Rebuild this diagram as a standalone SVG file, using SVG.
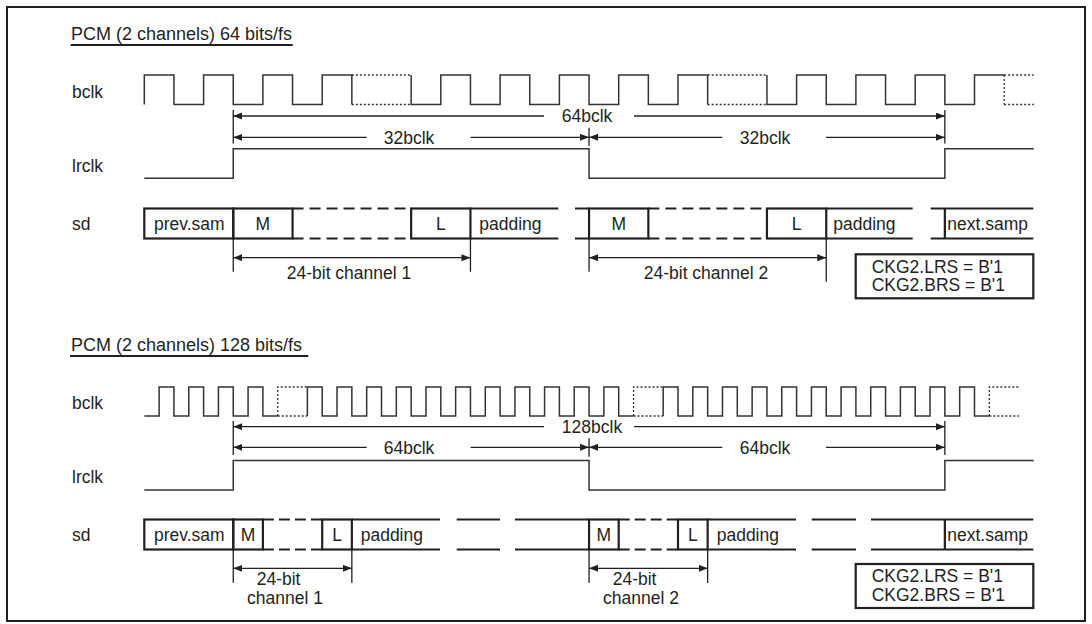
<svg xmlns="http://www.w3.org/2000/svg" width="1092" height="624" viewBox="0 0 1092 624">
<style>
text{font-family:"Liberation Sans",Arial,sans-serif;font-size:17.5px;fill:#231f20}
.t{font-size:18px}
.c{text-anchor:middle}
.w{fill:none;stroke:#333;stroke-width:1.5}
.d{fill:none;stroke:#333;stroke-width:1.3;stroke-dasharray:2 2}
.a{fill:none;stroke:#231f20;stroke-width:1.3}
.b{fill:none;stroke:#231f20;stroke-width:2.2}
.bd{fill:none;stroke:#231f20;stroke-width:2.2;stroke-dasharray:11 6}
.bd2{fill:none;stroke:#231f20;stroke-width:2.2;stroke-dasharray:11 5}
.ar{marker-start:url(#ah);marker-end:url(#ah)}
</style>
<defs>
<marker id="ah" markerUnits="userSpaceOnUse" markerWidth="10" markerHeight="8" refX="9" refY="3.5" orient="auto-start-reverse"><path d="M0,0 L9,3.5 L0,7 z" fill="#231f20"/></marker>
</defs>
<rect x="7" y="7" width="1078" height="614" fill="#fff" stroke="#231f20" stroke-width="2"/>

<g id="title64">
<text class="t" x="71" y="39.5">PCM (2 channels) 64 bits/fs</text>
<line x1="70.7" y1="45" x2="292.7" y2="45" stroke="#231f20" stroke-width="2.2"/>
</g>
<g id="labels64">
<text x="72" y="97.7">bclk</text>
<text x="72" y="171.5">lrclk</text>
<text x="72" y="230">sd</text>
</g>
<g id="bclk64">
<path class="w" d="M144.3,104.5 V75 H173.95 V104.5 H203.6 V75 H233.25 V104.5 H262.9 V75 H292.55 V104.5 H322.2 V75 H351.85 V104.5"/>
<path class="d" d="M351.85,75 H411.15 M351.85,104.5 H411.15"/>
<path class="w" d="M411.15,75 V104.5 H440.8 V75 H470.45 V104.5 H500.1 V75 H529.75 V104.5 H559.4 V75 H589.05 V104.5 H618.7 V75 H648.35 V104.5 H678 V75 H707.65 V104.5"/>
<path class="d" d="M707.65,75 H766.95 M707.65,104.5 H766.95"/>
<path class="w" d="M766.95,75 V104.5 H796.6 V75 H826.25 V104.5 H855.9 V75 H885.55 V104.5 H915.2 V75 H944.85 V104.5 H974.5 V75 H1004.15"/>
<path class="d" d="M1004.15,75 V104.5 M1004.15,75 H1033.8 M1004.15,104.5 H1033.8"/>
</g>
<g id="lrclk64">
<path class="w" d="M144.3,178.3 H233.25 V148.7 H589.05 V178.3 H944.85 V148.7 H1033.8"/>
</g>
<g id="sd64">
<rect class="b" x="144.3" y="208.5" width="88.95" height="30"/>
<rect class="b" x="233.25" y="208.5" width="59.3" height="30"/>
<path class="bd" d="M292.55,208.5 H411.15 M292.55,238.5 H411.15"/>
<rect class="b" x="411.15" y="208.5" width="59.3" height="30"/>
<path class="b" d="M470.45,208.5 H558.3 M470.45,238.5 H558.3 M575,208.5 H589.05 M575,238.5 H589.05"/>
<rect class="b" x="589.05" y="208.5" width="59.3" height="30"/>
<path class="bd" d="M648.35,208.5 H766.95 M648.35,238.5 H766.95"/>
<rect class="b" x="766.95" y="208.5" width="59.3" height="30"/>
<path class="b" d="M826.25,208.5 H912.7 M826.25,238.5 H912.7 M930.7,208.5 H1033.3 M930.7,238.5 H1033.3 M944.85,208.5 V238.5"/>
<text x="154" y="229.5">prev.sam</text>
<text class="c" x="262.9" y="229.5">M</text>
<text class="c" x="440.8" y="229.5">L</text>
<text x="479.3" y="229.5">padding</text>
<text class="c" x="618.7" y="229.5">M</text>
<text class="c" x="796.6" y="229.5">L</text>
<text x="833.3" y="229.5">padding</text>
<text x="947.3" y="229.5">next.samp</text>
</g>
<g id="ckg64">
<rect class="b" x="855.7" y="254.3" width="177.6" height="44"/>
<text x="871.7" y="272.5">CKG2.LRS = B'1</text>
<text x="871.7" y="291">CKG2.BRS = B'1</text>
</g>

<g id="title128">
<text class="t" x="71" y="351">PCM (2 channels) 128 bits/fs</text>
<line x1="70" y1="356" x2="308.3" y2="356" stroke="#231f20" stroke-width="2.2"/>
</g>
<g id="labels128">
<text x="72" y="409">bclk</text>
<text x="72" y="483">lrclk</text>
<text x="72" y="540.7">sd</text>
</g>
<g id="bclk128">
<path class="w" d="M144.3,416 H159.13 V387 H173.95 V416 H188.78 V387 H203.6 V416 H218.43 V387 H233.25 V416 H248.08 V387 H262.9 V416 H277.73"/>
<path class="d" d="M277.73,416 V387 H307.38 M277.73,416 H307.38"/>
<path class="w" d="M307.38,416 V387 H322.2 V416 H337.03 V387 H351.85 V416 H366.68 V387 H381.5 V416 H396.33 V387 H411.15 V416 H425.98 V387 H440.8 V416 H455.63 V387 H470.45 V416 H485.28 V387 H500.1 V416 H514.93 V387 H529.75 V416 H544.58 V387 H559.4 V416 H574.23 V387 H589.05 V416 H603.88 V387 H618.7 V416 H633.53"/>
<path class="d" d="M633.53,416 V387 H663.18 M633.53,416 H663.18"/>
<path class="w" d="M663.18,416 V387 H678 V416 H692.83 V387 H707.65 V416 H722.48 V387 H737.3 V416 H752.13 V387 H766.95 V416 H781.78 V387 H796.6 V416 H811.43 V387 H826.25 V416 H841.08 V387 H855.9 V416 H870.73 V387 H885.55 V416 H900.38 V387 H915.2 V416 H930.03 V387 H944.85 V416 H959.68 V387 H974.5 V416 H989.33"/>
<path class="d" d="M989.33,416 V387 H1018.98 M989.33,416 H1018.98"/>
</g>
<g id="lrclk128">
<path class="w" d="M144.3,490 H233.25 V460.5 H589.05 V490 H944.85 V460.5 H1033.8"/>
</g>
<g id="sd128">
<rect class="b" x="144.3" y="519.5" width="88.95" height="30"/>
<rect class="b" x="233.25" y="519.5" width="29.65" height="30"/>
<path class="bd2" d="M262.9,519.5 H322.2 M262.9,549.5 H322.2"/>
<rect class="b" x="322.2" y="519.5" width="29.65" height="30"/>
<path class="b" d="M351.85,519.5 H440 M351.85,549.5 H440 M456.7,519.5 H500 M456.7,549.5 H500 M515,519.5 H589.05 M515,549.5 H589.05"/>
<rect class="b" x="589.05" y="519.5" width="29.65" height="30"/>
<path class="bd2" d="M618.7,519.5 H678 M618.7,549.5 H678"/>
<rect class="b" x="678" y="519.5" width="29.65" height="30"/>
<path class="b" d="M707.65,519.5 H796 M707.65,549.5 H796 M811.7,519.5 H856 M811.7,549.5 H856 M871,519.5 H1033.3 M871,549.5 H1033.3 M944.85,519.5 V549.5"/>
<text x="154" y="540.5">prev.sam</text>
<text class="c" x="248.1" y="540.5">M</text>
<text class="c" x="337" y="540.5">L</text>
<text x="360.7" y="540.5">padding</text>
<text class="c" x="603.9" y="540.5">M</text>
<text class="c" x="692.8" y="540.5">L</text>
<text x="716.7" y="540.5">padding</text>
<text x="947.3" y="540.5">next.samp</text>
</g>
<g id="ckg128">
<rect class="b" x="855.7" y="564" width="177.6" height="44"/>
<text x="871.7" y="582.3">CKG2.LRS = B'1</text>
<text x="871.7" y="600.7">CKG2.BRS = B'1</text>
</g>

<g id="connectors">
<!-- top ticks -->
<path class="a" d="M233.25,110 V143.5 M944.85,110 V143.5 M589.05,127.7 V146"/>
<line class="a" x1="233.25" y1="116" x2="544" y2="116" marker-start="url(#ah)"/>
<line class="a" x1="634" y1="116" x2="944.85" y2="116" marker-end="url(#ah)"/>
<line class="a" x1="233.25" y1="137.3" x2="366.7" y2="137.3" marker-start="url(#ah)"/>
<line class="a" x1="470.7" y1="137.3" x2="589.05" y2="137.3" marker-end="url(#ah)"/>
<line class="a" x1="589.05" y1="137.3" x2="722.3" y2="137.3" marker-start="url(#ah)"/>
<line class="a" x1="826" y1="137.3" x2="944.85" y2="137.3" marker-end="url(#ah)"/>
<path class="a" d="M233.25,238.5 V271.7 M470.45,238.5 V271.7 M589.05,238.5 V271.7 M826.25,238.5 V281.7"/>
<line class="a ar" x1="233.25" y1="257.7" x2="470.45" y2="257.7"/>
<line class="a ar" x1="589.05" y1="257.7" x2="826.25" y2="257.7"/>
<!-- bottom -->
<path class="a" d="M233.25,421 V455 M944.85,421 V455 M589.05,438.3 V456.7"/>
<line class="a" x1="233.25" y1="426.7" x2="544" y2="426.7" marker-start="url(#ah)"/>
<line class="a" x1="634" y1="426.7" x2="944.85" y2="426.7" marker-end="url(#ah)"/>
<line class="a" x1="233.25" y1="447.3" x2="366.7" y2="447.3" marker-start="url(#ah)"/>
<line class="a" x1="470.7" y1="447.3" x2="589.05" y2="447.3" marker-end="url(#ah)"/>
<line class="a" x1="589.05" y1="447.3" x2="722.3" y2="447.3" marker-start="url(#ah)"/>
<line class="a" x1="826" y1="447.3" x2="944.85" y2="447.3" marker-end="url(#ah)"/>
<path class="a" d="M233.25,549.5 V582.7 M351.85,549.5 V582.7 M589.05,549.5 V582.7 M707.65,549.5 V583"/>
<line class="a ar" x1="233.25" y1="568.3" x2="351.85" y2="568.3"/>
<line class="a ar" x1="589.05" y1="568.3" x2="707.65" y2="568.3"/>
</g>
<g id="connector-labels">
<text class="c" x="587" y="122">64bclk</text>
<text class="c" x="409" y="143.5">32bclk</text>
<text class="c" x="765" y="143.5">32bclk</text>
<text class="c" x="349" y="278.5">24-bit channel 1</text>
<text class="c" x="706" y="278.5">24-bit channel 2</text>
<text class="c" x="592" y="433">128bclk</text>
<text class="c" x="409" y="454">64bclk</text>
<text class="c" x="765" y="454">64bclk</text>
<text x="256.7" y="585">24-bit</text>
<text x="247" y="604">channel 1</text>
<text x="612.7" y="585">24-bit</text>
<text x="603" y="604">channel 2</text>
</g>
</svg>
